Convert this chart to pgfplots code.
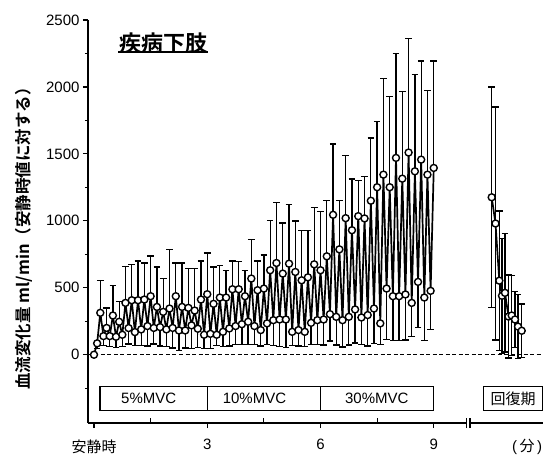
\documentclass[border=0pt]{standalone}
\usepackage{pgfplots}
\pgfplotsset{compat=1.18}
\usepackage{pgfplotstable}
\usepackage{fontspec}
\setmainfont{Liberation Sans}
\newfontfamily\jp{Noto Sans CJK JP}
\newfontfamily\jpb{Noto Sans CJK JP Bold}

\pgfplotstableread{
t y ep em
0 0 0 0
0.0833 85 0 40
0.1667 313 243 0
0.25 139 0 70
0.3333 200 150 0
0.4167 139 0 80
0.5 293 226 0
0.5833 134 0 80
0.6667 246 152 0
0.75 149 0 90
0.8333 387 273 0
0.9167 199 0 120
1.0 407 266 0
1.0833 169 0 100
1.1667 407 293 0
1.25 189 0 120
1.3333 412 274 0
1.4167 214 0 150
1.5 437 300 0
1.5833 200 0 120
1.6667 357 298 0
1.75 206 0 140
1.8333 320 249 0
1.9167 189 0 130
2.0 345 440 0
2.0833 200 0 150
2.1667 437 248 0
2.25 181 0 150
2.3333 357 328 0
2.4167 181 0 130
2.5 350 293 0
2.5833 219 0 170
2.6667 330 313 0
2.75 194 0 140
2.8333 412 288 0
2.9167 149 0 100
3.0 452 308 0
3.0833 156 0 110
3.1667 380 275 0
3.25 149 0 80
3.3333 427 241 0
3.4167 171 0 110
3.5 427 204 0
3.5833 196 0 130
3.6667 489 211 0
3.75 214 0 140
3.8333 489 206 0
3.9167 228 0 150
4.0 437 194 0
4.0833 246 0 170
4.1667 569 292 0
4.25 214 0 140
4.3333 482 218 0
4.4167 184 0 120
4.5 494 251 0
4.5833 234 0 160
4.6667 631 373 0
4.75 258 0 190
4.8333 685 454 0
4.9167 263 0 200
5.0 606 377 0
5.0833 263 0 210
5.1667 680 442 0
5.25 171 0 100
5.3333 618 380 0
5.4167 184 0 120
5.5 556 374 0
5.5833 171 0 110
5.6667 578 352 0
5.75 238 0 160
5.8333 675 427 0
5.9167 258 0 180
6.0 631 441 0
6.0833 263 0 190
6.1667 735 417 0
6.25 303 0 200
6.3333 1045 529 0
6.4167 283 0 210
6.5 787 365 0
6.5833 258 0 200
6.6667 1020 467 0
6.75 283 0 210
6.8333 930 383 0
6.9167 338 0 250
7.0 1035 265 0
7.0833 278 0 200
7.1667 1018 312 0
7.25 296 0 230
7.3333 1150 469 0
7.4167 345 0 260
7.5 1251 491 0
7.5833 234 0 160
7.6667 1345 720 0
7.75 494 0 380
7.8333 1251 675 0
7.9167 437 0 330
8.0 1470 781 0
8.0833 437 0 330
8.1667 1315 651 0
8.25 450 0 340
8.3333 1510 853 0
8.4167 387 0 250
8.5 1370 725 0
8.5833 544 0 340
8.6667 1457 737 0
8.75 427 0 320
8.8333 1345 631 0
8.9167 477 0 290
9.0 1395 799 0
}\exdata

\pgfplotstableread{
t y ep em
10.535 1176 824 824
10.636 980 870 870
10.737 553 520 520
10.808 440 430 430
10.887 462 442 442
10.980 285 310 310
11.065 293 300 300
11.152 263 210 210
11.232 210 240 240
11.330 179 200 200
}\recdata

\begin{document}
\begin{tikzpicture}
\begin{axis}[
  scale only axis, width=455bp, height=403bp,
  xmin=-0.159, xmax=11.894, ymin=-510, ymax=2500,
  axis x line=bottom, axis y line=left,
  axis line style={-, line width=1.2bp, black},
  tick align=outside, major tick length=5bp, minor tick length=3bp,
  tick style={line width=1.2bp, black},
  xtick={0,3,6,9}, xticklabels={{\jp 安静時},3,6,9},
  xticklabel style={yshift=-8bp},
  ytick={0,500,...,2500}, minor ytick={-250,250,750,1250,1750,2250},
  tick label style={font=\fontsize{15bp}{18bp}\selectfont},
  /pgf/number format/assume math mode=true,
  /pgf/number format/1000 sep={},
  clip=false,
]
\draw[black, line width=1.1bp, dash pattern=on 4bp off 2.5bp] (axis cs:-0.159,0) -- (axis cs:11.894,0);
% boxes
\draw[line width=1.1bp] (axis cs:0.16,-238) rectangle (axis cs:9,-417);
\draw[line width=1.1bp] (axis cs:3,-238) -- (axis cs:3,-417);
\draw[line width=1.1bp] (axis cs:6,-238) -- (axis cs:6,-417);
\draw[line width=1.1bp] (axis cs:10.31,-238) rectangle (axis cs:11.87,-417);
\node[font=\fontsize{15bp}{18bp}\selectfont] at (axis cs:1.45,-327) {5\%MVC};
\node[font=\fontsize{15bp}{18bp}\selectfont] at (axis cs:4.25,-327) {10\%MVC};
\node[font=\fontsize{15bp}{18bp}\selectfont] at (axis cs:7.49,-327) {30\%MVC};
\node[font=\fontsize{15bp}{18bp}\selectfont\jp] at (axis cs:11.1,-327) {回復期};
% minor x ticks (inward)
\draw[line width=1.2bp] (axis cs:1.5,-510) -- ([yshift=5bp]axis cs:1.5,-510);
\draw[line width=1.2bp] (axis cs:4.5,-510) -- ([yshift=5bp]axis cs:4.5,-510);
\draw[line width=1.2bp] (axis cs:7.5,-510) -- ([yshift=5bp]axis cs:7.5,-510);
% data
\addplot[black, line width=1.7bp, mark=none,
  error bars/.cd, y dir=both, y explicit, error mark=-,
  error bar style={line width=1.3bp, black},
  error mark options={rotate=90, mark size=3.3bp, line width=1.3bp, black}]
  table[x=t, y=y, y error plus=ep, y error minus=em] {\exdata};
\addplot[only marks, mark=*, mark size=3.5bp, mark options={fill=white, draw=black, line width=1.4bp}]
  table[x=t, y=y] {\exdata};
\addplot[black, line width=1.7bp, mark=none,
  error bars/.cd, y dir=both, y explicit, error mark=-,
  error bar style={line width=1.3bp, black},
  error mark options={rotate=90, mark size=3.3bp, line width=1.3bp, black}]
  table[x=t, y=y, y error plus=ep, y error minus=em] {\recdata};
\addplot[only marks, mark=*, mark size=3.5bp, mark options={fill=white, draw=black, line width=1.4bp}]
  table[x=t, y=y] {\recdata};
\end{axis}
% axis break
\fill[white] (378.7bp,-1.6bp) rectangle (382bp,1.6bp);
\draw[line width=1.2bp] (378.7bp,-5bp) -- (378.7bp,5bp);
\draw[line width=1.2bp] (382bp,-5bp) -- (382bp,5bp);
% texts
\node[font=\fontsize{15bp}{18bp}\selectfont] at (439bp,-24bp) {(\,{\jp 分}\,)};
\node[font=\fontsize{22bp}{26bp}\selectfont\jpb, inner sep=0pt] at (75bp,379.5bp) {疾病下肢};
\draw[line width=1.3bp] (30bp,371bp) -- (120bp,371bp);
\node[rotate=90, font=\fontsize{16.5bp}{20bp}\selectfont\jpb, inner sep=0pt] at (-64bp,188.5bp) {血流変化量 ml/min（安静時値に対する）};
\pgfresetboundingbox
\path[use as bounding box] (-88bp,-34bp) rectangle (455bp,423bp);
\end{tikzpicture}
\end{document}
